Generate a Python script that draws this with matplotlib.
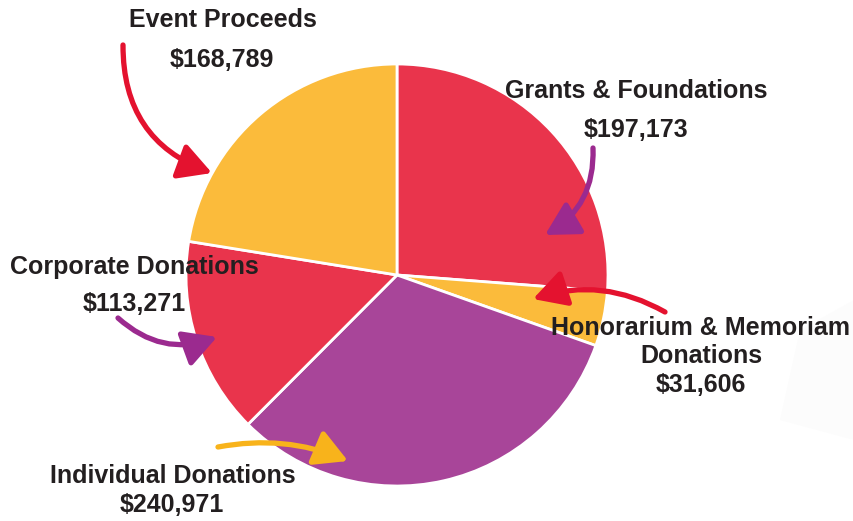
import matplotlib.pyplot as plt
from matplotlib.patches import FancyArrowPatch, Polygon

# data
labels = ["Grants & Foundations", "Honorarium & Memoriam\nDonations",
          "Individual Donations", "Corporate Donations", "Event Proceeds"]
values = [197173, 31606, 240971, 113271, 168789]
colors = ["#E9344C", "#FBBB3B", "#A84599", "#E9344C", "#FBBB3B"]

W, H = 854, 521
fig = plt.figure(figsize=(W / 100, H / 100), dpi=100)
ax = fig.add_axes([0, 0, 1, 1])

def py(y):
    # pixel row (top down) -> data y
    return H - y

# faint background shape bottom right
ax.add_patch(Polygon([(800, py(330)), (854, py(300)), (854, py(440)), (780, py(420))],
                     closed=True, facecolor="#FCFCFC", edgecolor="none", zorder=0))

ax.pie(values, colors=colors, startangle=90, counterclock=False,
       center=(397, py(275)), radius=211, frame=True,
       wedgeprops=dict(edgecolor="white", linewidth=2))
ax.set_xlim(0, W)
ax.set_ylim(0, H)
ax.set_aspect("equal")
ax.axis("off")

txt = dict(fontsize=18, fontweight="bold", color="#231F20",
           family="Liberation Sans", ha="center", va="center")

def fmt(v):
    return "${:,}".format(v)

# label positions (pixel coords, top-down)
lab_pos = [(636, 91), (701, 342), (173, 476), (134, 267), (223, 20)]
val_pos = [(636, 130), (701, 385), (172, 505), (134, 304), (222, 60)]
for lab, v, (lx, ly), (vx, vy) in zip(labels, values, lab_pos, val_pos):
    ax.text(lx, py(ly), lab, linespacing=1.2, **txt)
    ax.text(vx, py(vy), fmt(v), **txt)

# curved arrows
arrows = [
    ((123, 45), (212, 173), 0.35, "#E4122F"),
    ((593, 148), (545, 235), -0.3, "#9B2A8F"),
    ((665, 312), (533, 299), 0.22, "#E4122F"),
    ((118, 318), (217, 337), 0.3, "#9B2A8F"),
    ((218, 447), (348, 461), -0.15, "#F8B31B"),
]
for (x1, y1), (x2, y2), rad, c in arrows:
    ax.add_patch(FancyArrowPatch((x1, py(y1)), (x2, py(y2)),
                                 connectionstyle="arc3,rad=%s" % rad,
                                 arrowstyle="-|>,head_length=1.0,head_width=0.55",
                                 mutation_scale=20, color=c, linewidth=3.8,
                                 shrinkA=0, shrinkB=0, zorder=5))

fig.savefig("out.png", dpi=100, facecolor="white")
